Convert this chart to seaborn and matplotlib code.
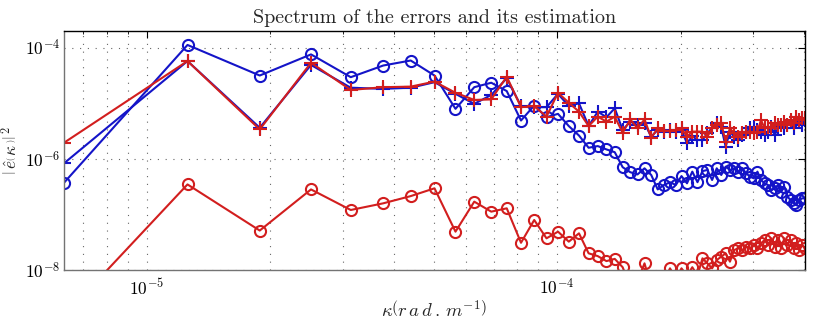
import numpy as np
import matplotlib
matplotlib.use("Agg")
import matplotlib.pyplot as plt
import matplotlib.ticker as mticker
import seaborn as sns

# ---------------- data ----------------
dk = 6.2832e-6                      # wavenumber step (rad/m)
mode_index = np.arange(1, 65)       # k = 1 .. 64
kappa = dk * mode_index

# log10 of |e(kappa)|^2
blue_circles_log10 = [-6.43, -3.95, -4.50, -4.12, -4.53, -4.32, -4.23, -4.50, -5.10, -4.71,
                      -4.63, -4.78, -5.31, -5.04, -5.25, -5.19, -5.41, -5.58, -5.80, -5.77,
                      -5.83, -5.88, -6.15, -6.24, -6.28, -6.17, -6.29, -6.55, -6.47, -6.42,
                      -6.47, -6.31, -6.44, -6.23, -6.42, -6.22, -6.20, -6.38, -6.17, -6.29,
                      -6.14, -6.20, -6.17, -6.23, -6.17, -6.26, -6.32, -6.35, -6.23, -6.38,
                      -6.44, -6.47, -6.56, -6.53, -6.47, -6.59, -6.50, -6.68, -6.74, -6.80,
                      -6.83, -6.74, -6.71, -6.71]
blue_plus_log10 = [-6.08, -4.24, -5.44, -4.31, -4.72, -4.74, -4.72, -4.62, -4.83, -5.01,
                   -4.85, -4.55, -5.05, -5.07, -5.07, -4.83, -5.05, -5.00, -5.41, -5.15,
                   -5.25, -5.09, -5.48, -5.33, -5.39, -5.36, -5.60, -5.48, -5.51, -5.48,
                   -5.51, -5.48, -5.72, -5.59, -5.66, -5.66, -5.54, -5.44, -5.36, -5.43,
                   -5.78, -5.51, -5.60, -5.66, -5.57, -5.51, -5.45, -5.42, -5.48, -5.51,
                   -5.57, -5.51, -5.42, -5.57, -5.45, -5.39, -5.45, -5.39, -5.34, -5.45,
                   -5.33, -5.30, -5.39, -5.30]
red_plus_log10 = [-5.71, -4.24, -5.47, -4.27, -4.76, -4.71, -4.70, -4.61, -4.81, -4.94,
                  -4.93, -4.52, -5.07, -5.05, -5.24, -4.81, -4.99, -5.15, -5.41, -5.24,
                  -5.33, -5.24, -5.53, -5.29, -5.45, -5.29, -5.62, -5.45, -5.49, -5.50,
                  -5.48, -5.45, -5.60, -5.51, -5.51, -5.51, -5.60, -5.45, -5.39, -5.36,
                  -5.69, -5.45, -5.54, -5.60, -5.54, -5.51, -5.51, -5.54, -5.51, -5.30,
                  -5.45, -5.42, -5.45, -5.36, -5.39, -5.39, -5.33, -5.39, -5.30, -5.36,
                  -5.24, -5.30, -5.27, -5.27]
red_circles_log10 = [-8.83, -6.46, -7.29, -6.55, -6.92, -6.80, -6.67, -6.53, -7.31, -6.77,
                     -6.95, -6.89, -7.51, -7.10, -7.43, -7.31, -7.49, -7.34, -7.70, -7.75,
                     -7.84, -7.80, -7.95, -8.30, -8.20, -7.88, -8.30, -8.50, -8.20, -7.97,
                     -8.15, -7.97, -8.10, -7.95, -8.10, -7.79, -7.88, -7.97, -7.82, -7.76,
                     -7.70, -7.85, -7.64, -7.61, -7.64, -7.58, -7.61, -7.55, -7.61, -7.52,
                     -7.46, -7.55, -7.43, -7.58, -7.46, -7.61, -7.43, -7.55, -7.46, -7.61,
                     -7.52, -7.64, -7.55, -7.61]

x_ticks = [1e-5, 1e-4]
x_tick_labels = [r'$10^{-5}$', r'$10^{-4}$']
y_ticks = [1e-8, 1e-6, 1e-4]
y_tick_labels = [r'$10^{-8}$', r'$10^{-6}$', r'$10^{-4}$']

title_text = "Spectrum of the errors and its estimation"
x_label = r'$\kappa\left(r\,a\,d\,.\,m^{-1}\right)$'
y_label = r'$\left|\,\hat{e}\left(\,\kappa\,\right)\right|^{\,2}$'

# ---------------- style ----------------
sns.set_theme(style="white")
plt.rcParams['mathtext.fontset'] = 'cm'
plt.rcParams['font.family'] = ['DejaVu Serif']
plt.rcParams['axes.formatter.use_mathtext'] = True

BLUE = '#1414c8'
RED = '#d21e1e'

fig = plt.figure(figsize=(8.17, 3.25), dpi=100)
ax = fig.add_axes([64/817, 1 - 270/325, (805 - 64)/817, (270 - 31)/325])

series = [
    (blue_circles_log10, BLUE, 'o'),
    (blue_plus_log10, BLUE, '+'),
    (red_plus_log10, RED, '+'),
    (red_circles_log10, RED, 'o'),
]
for vals, col, mk in series:
    yv = 10.0 ** np.asarray(vals)
    sns.lineplot(x=kappa, y=yv, ax=ax, color=col, marker=mk,
                 markersize=8.0 if mk == 'o' else 9.5,
                 markerfacecolor='none', markeredgecolor=col,
                 markeredgewidth=1.5, linewidth=1.5, sort=False,
                 estimator=None, legend=False)

ax.set_xscale('log')
ax.set_yscale('log')
ax.set_xlim(kappa[0], kappa[-1])
ax.set_ylim(1e-8, 2e-4)

ax.set_xticks(x_ticks)
ax.set_xticklabels(x_tick_labels)
ax.xaxis.set_minor_locator(mticker.LogLocator(base=10, subs=np.arange(2, 10)))
ax.xaxis.set_minor_formatter(mticker.NullFormatter())
ax.set_yticks(y_ticks)
ax.set_yticklabels(y_tick_labels)
ax.yaxis.set_minor_locator(mticker.NullLocator())

ax.tick_params(which='both', direction='in', top=True, right=True,
               colors='black', labelsize=12.5)
ax.tick_params(which='major', length=5, width=0.8)
ax.tick_params(which='minor', length=2.5, width=0.6)
ax.tick_params(axis='x', which='major', pad=6)
ax.tick_params(axis='y', which='major', pad=3)

grid_style = dict(color='0.4', linestyle=(0, (1, 6)), linewidth=0.8)
ax.grid(True, which='major', axis='both', **grid_style)
ax.grid(True, which='minor', axis='x', **grid_style)
ax.set_axisbelow(True)

for side in ['top', 'right']:
    ax.spines[side].set_color('black')
    ax.spines[side].set_linewidth(1.0)
for side in ['left', 'bottom']:
    ax.spines[side].set_color('0.45')
    ax.spines[side].set_linewidth(1.0)

ax.set_title(title_text, family='cmr10', fontsize=14.5, pad=6)
ax.set_xlabel(x_label, fontsize=13.5, labelpad=1)
ax.set_ylabel(y_label, fontsize=12.5)
ax.yaxis.set_label_coords(-0.058, 0.5)

fig.savefig('out.png', dpi=100)
